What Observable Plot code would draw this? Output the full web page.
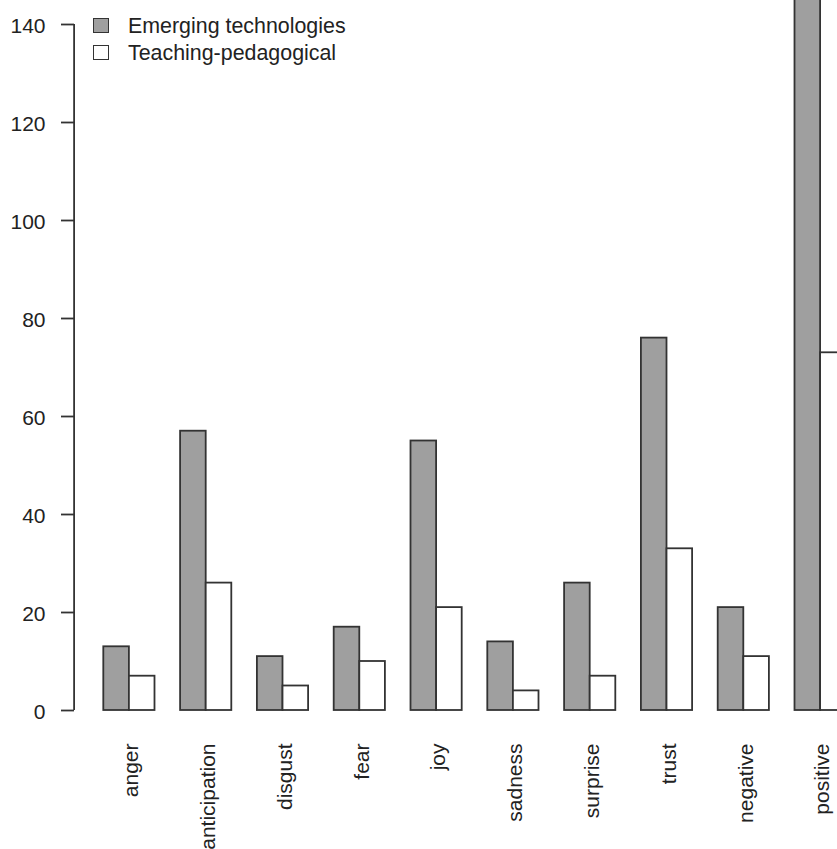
<!DOCTYPE html>
<html>
<head>
<meta charset="utf-8">
<script src="https://cdn.jsdelivr.net/npm/d3@7"></script>
<script src="https://cdn.jsdelivr.net/npm/@observablehq/plot@0.6"></script>
<style>
  html, body { margin: 0; padding: 0; background: #fff; overflow: hidden; }
  #wrap { position: relative; width: 837px; height: 849px; overflow: hidden; font-family: "Liberation Sans", Arial, sans-serif; }
  #legend { position: absolute; left: 93px; top: 12.5px; width: 320px; height: 60px; }
  .row { position: absolute; left: 0; height: 27px; width: 320px; }
  .sw { position: absolute; left: 0; top: 5.5px; width: 16px; height: 15px; box-sizing: border-box; border: 1.8px solid #333; }
  .lb { position: absolute; left: 35px; top: 0; line-height: 27px; font-size: 21.4px; color: #222; white-space: nowrap; }
</style>
</head>
<body>
<div id="wrap"></div>
<script>
const categories = ["anger", "anticipation", "disgust", "fear", "joy", "sadness", "surprise", "trust", "negative", "positive"];
const series = ["Emerging technologies", "Teaching-pedagogical"];
const emerging = [13, 57, 11, 17, 55, 14, 26, 76, 21, 150];
const teaching = [7, 26, 5, 10, 21, 4, 7, 33, 11, 73];
const yTicks = [0, 20, 40, 60, 80, 100, 120, 140];
const colors = ["#9f9f9f", "#ffffff"];

// R barplot(beside=TRUE) layout units: each bar 1 unit, 1 unit gap before each group
const rows = [];
categories.forEach((c, i) => {
  [emerging, teaching].forEach((vals, s) => {
    rows.push({category: c, series: series[s], value: vals[i], x1: i * 3 + 1 + s, x2: i * 3 + 2 + s});
  });
});
const labelRows = categories.map((c, i) => ({category: c, center: i * 3 + 2}));
const nUnits = categories.length * 3;
const pad = 0.04 * (nUnits - 1);
const xDomain = [1 - pad, nUnits + pad];

const chart = Plot.plot({
  width: 837,
  height: 849,
  marginTop: 24,
  marginBottom: 139,
  marginLeft: 74,
  marginRight: 0,
  style: {fontFamily: "'Liberation Sans', Arial, sans-serif", fontSize: "21px", color: "#222", overflow: "visible", maxWidth: "none"},
  x: {type: "linear", domain: xDomain, range: [73.6, 875.4], axis: null},
  y: {domain: [0, 140], axis: null},
  color: {domain: series, range: colors},
  marks: [
    Plot.rectY(rows, {x1: "x1", x2: "x2", y1: 0, y2: "value", fill: "series", stroke: "#333", strokeWidth: 1.8}),
    Plot.ruleX([xDomain[0]], {y1: yTicks[0], y2: yTicks[yTicks.length - 1], stroke: "#333", strokeWidth: 1.8}),
    Plot.axisY({anchor: "left", ticks: yTicks, tickSize: 13, tickFormat: () => "", label: null, stroke: "#333", strokeWidth: 1.8}),
    Plot.axisY({anchor: "left", ticks: yTicks, tickSize: 0, tickPadding: 29, tickFormat: d => String(d), label: null, fontSize: 21, fill: "#222", dy: 2}),
    Plot.text(labelRows, {x: "center", y: 0, text: "category", rotate: -90, textAnchor: "end", lineAnchor: "middle", dx: 2, dy: 33, fontSize: 21, fill: "#222"})
  ]
});

const wrap = document.getElementById("wrap");
wrap.appendChild(chart);

const legend = document.createElement("div");
legend.id = "legend";
series.forEach((s, i) => {
  const row = document.createElement("div");
  row.className = "row";
  row.style.top = (i * 27) + "px";
  const sw = document.createElement("div");
  sw.className = "sw";
  sw.style.background = colors[i];
  const lb = document.createElement("div");
  lb.className = "lb";
  lb.textContent = s;
  row.appendChild(sw);
  row.appendChild(lb);
  legend.appendChild(row);
});
wrap.appendChild(legend);
</script>
</body>
</html>
